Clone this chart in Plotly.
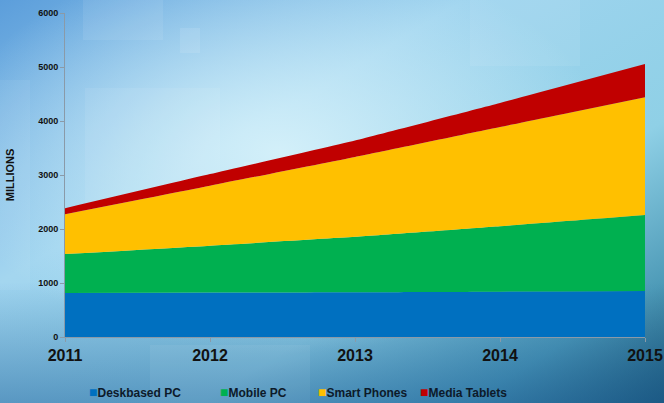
import base64
import plotly.graph_objects as go

# unidades vendidas (milhoes)
anos = [2011, 2012, 2013, 2014, 2015]
deskbased_pc = [815, 822, 830, 840, 852]
mobile_pc = [720, 870, 1025, 1210, 1405]
smart_phones = [740, 1110, 1480, 1840, 2185]
media_tablets = [110, 215, 305, 445, 612]

series = [
    ('Deskbased PC', deskbased_pc, '#0070c0'),
    ('Mobile PC', mobile_pc, '#00b050'),
    ('Smart Phones', smart_phones, '#ffc000'),
    ('Media Tablets', media_tablets, '#c00000'),
]

W, H = 664, 403
ML, MR, MT, MB = 65, 19, 13, 66

# fundo em degrade (svg embutido)
svg = f'''<svg xmlns="http://www.w3.org/2000/svg" width="{W}" height="{H}" viewBox="0 0 {W} {H}" preserveAspectRatio="none">
<defs>
<linearGradient id="a" x1="0" y1="0" x2="1" y2="1">
<stop offset="0" stop-color="#5c9edb"/>
<stop offset="0.35" stop-color="#9fd4ef"/>
<stop offset="0.65" stop-color="#8fd0e6"/>
<stop offset="0.85" stop-color="#4e9bb8"/>
<stop offset="1" stop-color="#1c5670"/>
</linearGradient>
<radialGradient id="b" cx="0.42" cy="0.38" r="0.5">
<stop offset="0" stop-color="#d6f1fa" stop-opacity="0.95"/>
<stop offset="1" stop-color="#d6f1fa" stop-opacity="0"/>
</radialGradient>
<linearGradient id="c" x1="0" y1="0" x2="0" y2="1">
<stop offset="0.7" stop-color="#1b5d9a" stop-opacity="0"/>
<stop offset="1" stop-color="#1b5d9a" stop-opacity="0.5"/>
</linearGradient>
</defs>
<rect width="{W}" height="{H}" fill="url(#a)"/>
<rect width="{W}" height="{H}" fill="url(#b)"/>
<rect width="{W}" height="{H}" fill="url(#c)"/>
<rect x="83" y="0" width="80" height="40" fill="#ffffff" fill-opacity="0.08"/>
<rect x="180" y="28" width="20" height="25" fill="#ffffff" fill-opacity="0.1"/>
<rect x="85" y="88" width="135" height="250" fill="#ffffff" fill-opacity="0.07"/>
<rect x="244" y="162" width="52" height="60" fill="#ffffff" fill-opacity="0.1"/>
<rect x="470" y="0" width="110" height="66" fill="#ffffff" fill-opacity="0.07"/>
<rect x="0" y="80" width="30" height="210" fill="#ffffff" fill-opacity="0.06"/>
<rect x="150" y="345" width="160" height="58" fill="#ffffff" fill-opacity="0.06"/>
</svg>'''
fundo = 'data:image/svg+xml;base64,' + base64.b64encode(svg.encode()).decode()

pw, ph = W - ML - MR, H - MT - MB

# onde comeca cada item da legenda (px)
legenda_x = [89, 220, 318, 420]

fig = go.Figure()
for i, (nome, valores, cor) in enumerate(series):
    fig.add_trace(go.Scatter(
        name=nome,
        x=anos,
        y=valores,
        mode='lines',
        stackgroup='um',
        line=dict(width=0, color=cor, shape='spline', smoothing=0.4),
        fillcolor=cor,
        showlegend=False,
    ))
    # entrada da legenda: quadradinho colorido no proprio texto
    lg = 'legend' if i == 0 else f'legend{i + 1}'
    fig.add_trace(go.Scatter(
        name=f'<span style="color:{cor};font-size:14px">■</span>{nome}',
        x=[None], y=[None], mode='markers',
        marker=dict(symbol='square', size=1, color='rgba(0,0,0,0)'),
        legend=lg,
    ))
    fig.update_layout({lg: dict(
        orientation='h', xref='container', yref='container',
        x=(legenda_x[i] - 40) / W, xanchor='left',
        y=(H - 392) / H, yanchor='middle',
        font=dict(size=12, weight='bold', color='#0d1a2a'),
        bgcolor='rgba(0,0,0,0)', itemwidth=30,
    )})

fig.add_layout_image(dict(
    source=fundo, xref='paper', yref='paper',
    x=-ML / pw, y=1 + MT / ph, sizex=W / pw, sizey=H / ph,
    xanchor='left', yanchor='top', sizing='stretch', layer='below',
))

fig.update_layout(
    width=W, height=H,
    margin=dict(l=ML, r=MR, t=MT, b=MB, autoexpand=False),
    paper_bgcolor='#9fd4ef',
    plot_bgcolor='rgba(0,0,0,0)',
    font=dict(family='Liberation Sans, Arial, sans-serif', color='#111111'),
    showlegend=True,
)
fig.update_xaxes(
    range=[2011, 2015], tickvals=anos, showgrid=False, zeroline=False,
    showline=True, linecolor='#8a9aa8', linewidth=1, automargin=False,
    ticks='outside', ticklen=4, tickcolor='#8a9aa8',
    tickfont=dict(size=16, weight='bold', color='#111111'),
)
fig.update_yaxes(
    range=[0, 6000], dtick=1000, showgrid=False, zeroline=False,
    showline=True, linecolor='#8a9aa8', linewidth=1, automargin=False,
    ticks='outside', ticklen=4, tickcolor='#8a9aa8',
    tickfont=dict(size=9, weight='bold', color='#111111'),
    title=dict(text='MILLIONS', font=dict(size=11, weight='bold', color='#111111'), standoff=21),
)

fig.write_html("out.html", config={'displayModeBar': False},
               post_script="document.body.style.margin='0';")
